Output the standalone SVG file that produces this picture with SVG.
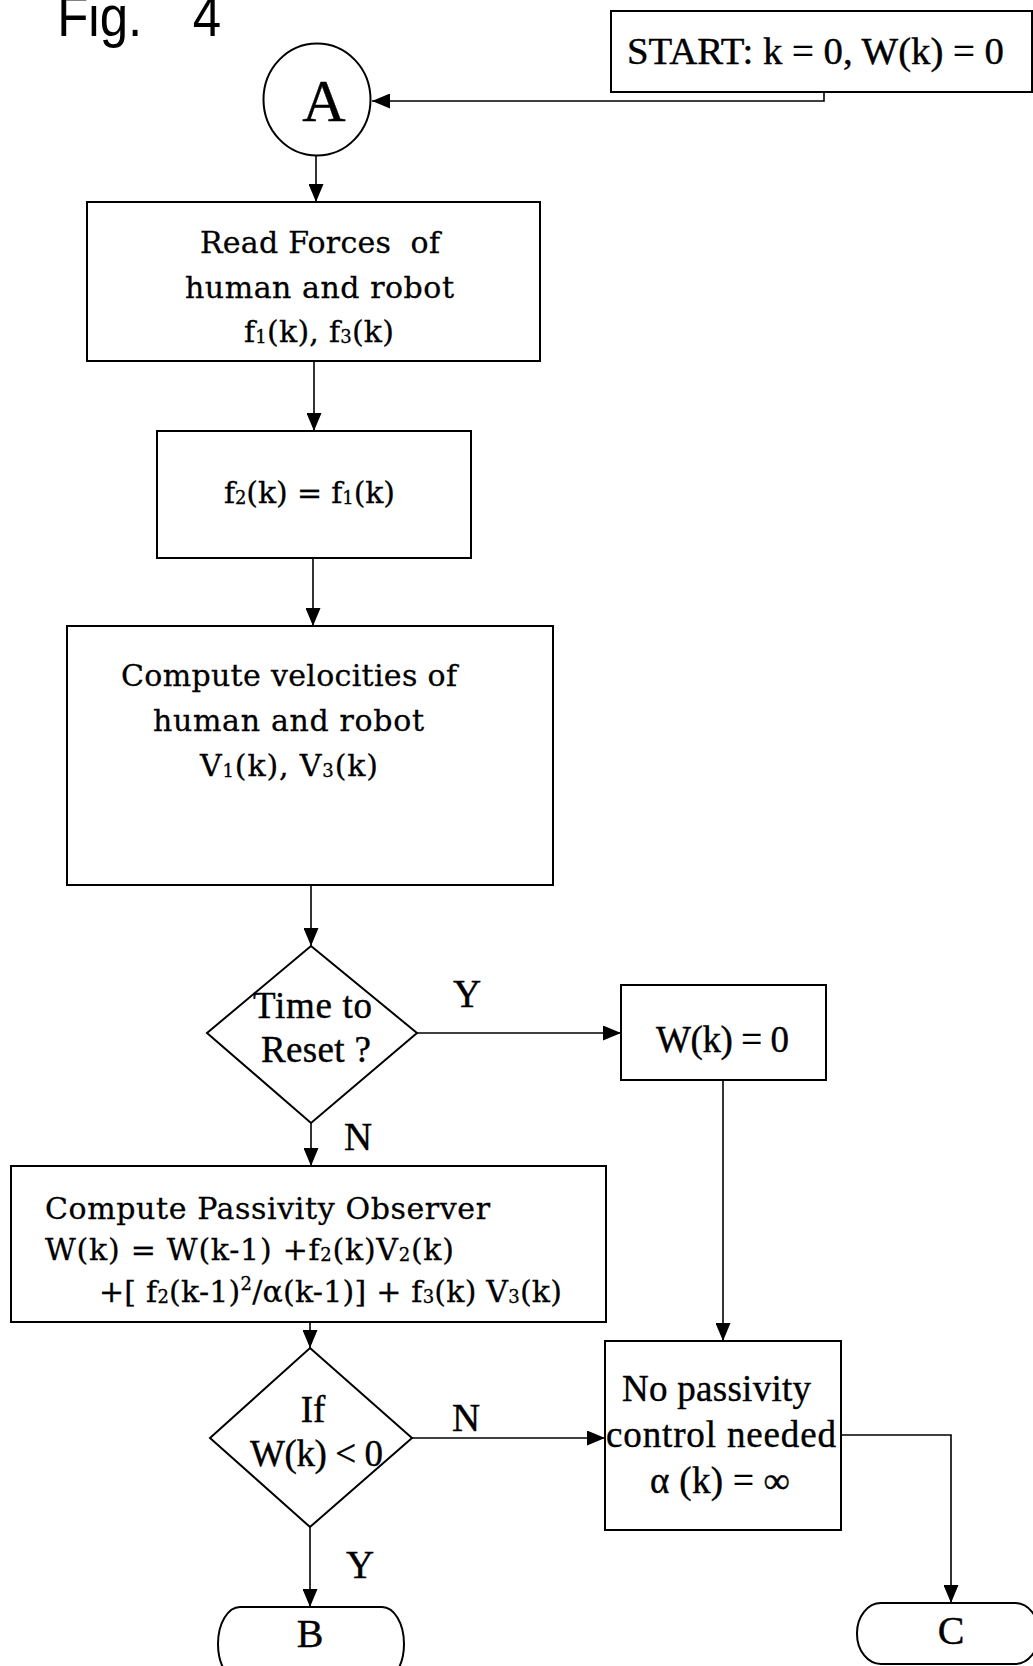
<svg xmlns="http://www.w3.org/2000/svg" width="1033" height="1666" viewBox="0 0 1033 1666">
<defs>
<style>
.box{fill:none;stroke:#000;stroke-width:2}
.ln{fill:none;stroke:#000;stroke-width:1.6;marker-end:url(#ah)}
.t{font-family:"Liberation Serif","Times New Roman",serif;fill:#000;stroke:#000;stroke-width:0.4;font-size:37px}
.d{font-family:"DejaVu Serif","Liberation Serif",serif;fill:#000;stroke:#000;stroke-width:0.3;font-size:30px}
.lbl{font-family:"Liberation Serif","Times New Roman",serif;fill:#000;stroke:#000;stroke-width:0.4;font-size:39px;text-anchor:middle}
.fig{font-family:"Liberation Sans",Arial,sans-serif;fill:#000;font-size:58px}
.big{font-size:60px}
.term{font-size:40px}
</style>
<marker id="ah" viewBox="0 0 18 15" refX="18" refY="7.5" markerWidth="18" markerHeight="15" orient="auto" markerUnits="userSpaceOnUse">
<path d="M0,0 L18,7.5 L0,15 z" fill="#000"/>
</marker>
</defs>
<rect width="1033" height="1666" fill="#fff"/>

<text class="fig" transform="scale(0.88,1)" x="65" y="36">Fig. <tspan x="219">4</tspan></text>

<g id="connectors">
<path class="ln" d="M824,92 V101 H372"/>
<path class="ln" d="M316,156 V202"/>
<path class="ln" d="M314,361 V431"/>
<path class="ln" d="M313,558 V626"/>
<path class="ln" d="M311,885 V946"/>
<path class="ln" d="M417,1033 H621"/>
<path class="ln" d="M311,1123 V1166"/>
<path class="ln" d="M723,1080 V1341"/>
<path class="ln" d="M310,1322 V1348"/>
<path class="ln" d="M412,1438 H605"/>
<path class="ln" d="M310,1527 V1607"/>
<path class="ln" d="M841,1435 H951 V1603"/>
<text class="lbl" x="467" y="1007">Y</text>
<text class="lbl" x="358" y="1150">N</text>
<text class="lbl" x="466" y="1431">N</text>
<text class="lbl" x="360" y="1578">Y</text>
</g>

<g id="start">
<rect class="box" x="611" y="11" width="421" height="81"/>
<text class="t" x="627" y="64" textLength="377" lengthAdjust="spacingAndGlyphs">START: k = 0, W(k) = 0</text>
</g>

<g id="connA">
<ellipse class="box" cx="317" cy="99.5" rx="53.5" ry="56"/>
<text class="t big" x="324" y="121" text-anchor="middle">A</text>
</g>

<g id="readForces">
<rect class="box" x="87" y="202" width="453" height="159"/>
<text class="d" x="200" y="253" textLength="240" xml:space="preserve">Read Forces  of</text>
<text class="d" x="185" y="298" textLength="269">human and robot</text>
<text class="d" x="244" y="342" textLength="150">f<tspan font-size="18" dy="1">1</tspan><tspan dy="-1">(k), f</tspan><tspan font-size="18" dy="1">3</tspan><tspan dy="-1">(k)</tspan></text>
</g>

<g id="assignF2">
<rect class="box" x="157" y="431" width="314" height="127"/>
<text class="d" x="224" y="503" textLength="171">f<tspan font-size="18" dy="1">2</tspan><tspan dy="-1">(k) = f</tspan><tspan font-size="18" dy="1">1</tspan><tspan dy="-1">(k)</tspan></text>
</g>

<g id="computeVel">
<rect class="box" x="67" y="626" width="486" height="259"/>
<text class="d" x="121" y="686" textLength="336">Compute velocities of</text>
<text class="d" x="153" y="731" textLength="271">human and robot</text>
<text class="d" x="200" y="776" textLength="178">V<tspan font-size="18" dy="1">1</tspan><tspan dy="-1">(k), V</tspan><tspan font-size="18" dy="1">3</tspan><tspan dy="-1">(k)</tspan></text>
</g>

<g id="resetDecision">
<polygon class="box" points="311,946 417,1033 311,1123 207,1033"/>
<text class="t" x="253" y="1018" textLength="119">Time to</text>
<text class="t" x="261" y="1062" textLength="110">Reset ?</text>
</g>

<g id="resetW">
<rect class="box" x="621" y="985" width="205" height="95"/>
<text class="t" x="656" y="1052" textLength="133">W(k) = 0</text>
</g>

<g id="passivityObserver">
<rect class="box" x="11" y="1166" width="595" height="156"/>
<text class="d" x="45" y="1219" textLength="445">Compute Passivity Observer</text>
<text class="d" x="45" y="1260" textLength="409">W(k) = W(k-1) +f<tspan font-size="18" dy="1">2</tspan><tspan dy="-1">(k)V</tspan><tspan font-size="18" dy="1">2</tspan><tspan dy="-1">(k)</tspan></text>
<text class="d" x="99" y="1302" textLength="463">+[ f<tspan font-size="18" dy="1">2</tspan><tspan dy="-1">(k-1)</tspan><tspan font-size="18" dy="-12">2</tspan><tspan dy="12">/α(k-1)] + f</tspan><tspan font-size="18" dy="1">3</tspan><tspan dy="-1">(k) V</tspan><tspan font-size="18" dy="1">3</tspan><tspan dy="-1">(k)</tspan></text>
</g>

<g id="wDecision">
<polygon class="box" points="310,1348 412,1438 310,1527 210,1438"/>
<text class="t" x="313" y="1422" text-anchor="middle">If</text>
<text class="t" x="250" y="1466" textLength="133">W(k) &lt; 0</text>
</g>

<g id="noPassivity">
<rect class="box" x="605" y="1341" width="236" height="189"/>
<text class="t" x="622" y="1401" textLength="189">No passivity</text>
<text class="t" x="606" y="1447" textLength="230">control needed</text>
<text class="t" x="650" y="1493" textLength="140">α (k) = ∞</text>
</g>

<g id="termB">
<rect class="box" x="218" y="1607" width="186" height="74" rx="22" ry="37"/>
<text class="t term" x="310" y="1647" text-anchor="middle">B</text>
</g>

<g id="termC">
<rect class="box" x="857" y="1603" width="182" height="61" rx="24" ry="30"/>
<text class="t term" x="951" y="1644" text-anchor="middle">C</text>
</g>
</svg>
